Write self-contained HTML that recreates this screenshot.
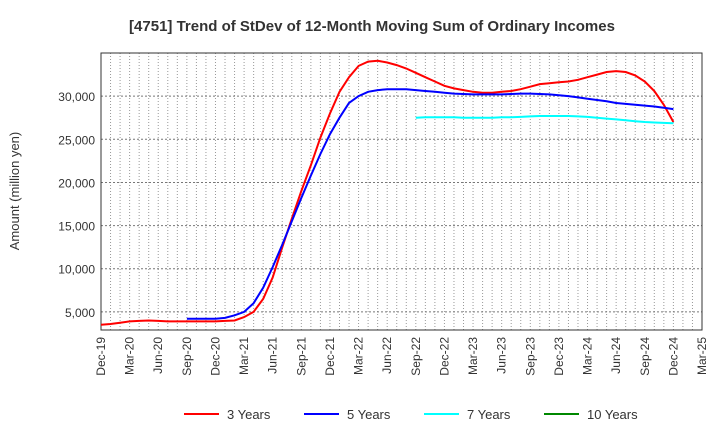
<!DOCTYPE html>
<html><head><meta charset="utf-8"><style>
body{margin:0;background:#fff;font-family:"Liberation Sans",sans-serif}
</style></head><body>
<svg id="c" width="720" height="440" xmlns="http://www.w3.org/2000/svg">
<text x="372" y="31" text-anchor="middle" font-size="15" font-weight="bold" fill="#333">[4751]  Trend of StDev of 12-Month Moving Sum of Ordinary Incomes</text>
<text transform="translate(19,191) rotate(-90)" text-anchor="middle" font-size="13" fill="#333">Amount (million yen)</text>
<g id="grid"></g><g id="axes"></g><g id="series"></g><g id="legend"></g>
</svg>
<script>
const xLabels=["Dec-19","Mar-20","Jun-20","Sep-20","Dec-20","Mar-21","Jun-21","Sep-21","Dec-21","Mar-22","Jun-22","Sep-22","Dec-22","Mar-23","Jun-23","Sep-23","Dec-23","Mar-24","Jun-24","Sep-24","Dec-24","Mar-25"];
const yTicks=[5000,10000,15000,20000,25000,30000];
const s3=[3500,3600,3750,3900,3950,4000,3950,3900,3900,3900,3900,3900,3900,3950,4000,4400,5000,6500,9000,12500,15800,19000,22000,25200,28000,30500,32200,33500,34000,34100,33900,33600,33200,32700,32200,31700,31200,30900,30700,30500,30400,30400,30500,30600,30800,31100,31400,31500,31600,31700,31900,32200,32500,32800,32900,32800,32400,31700,30600,29000,27000];
const s5Start=9;
const s5=[4200,4200,4200,4200,4300,4600,5000,6000,7800,10200,12800,15500,18200,20800,23300,25600,27500,29200,30000,30500,30700,30800,30800,30800,30700,30600,30500,30400,30300,30250,30200,30200,30200,30200,30250,30300,30300,30250,30200,30100,30000,29850,29700,29550,29400,29200,29100,29000,28900,28800,28650,28500];
const s7Start=33;
const s7=[27500,27550,27550,27550,27550,27500,27500,27500,27500,27550,27550,27600,27650,27700,27700,27700,27700,27650,27600,27500,27400,27300,27200,27100,27000,26950,26900,26850];
const s10=[];
const L=101,R=702,T=53,B=330,yMin=2900,yMax=35000,nM=63;
const X=i=>L+i*(R-L)/nM, Y=v=>B-(v-yMin)/(yMax-yMin)*(B-T);
const ns="http://www.w3.org/2000/svg";
function mk(t,a,p){const e=document.createElementNS(ns,t);for(const k in a)e.setAttribute(k,a[k]);p.appendChild(e);return e;}
const g=document.getElementById('grid'),ax=document.getElementById('axes'),se=document.getElementById('series'),lg=document.getElementById('legend');
for(let i=1;i<nM;i++){const l=mk('line',{x1:X(i),x2:X(i),y1:T,y2:B,stroke:'#999','stroke-width':1,'stroke-dasharray':'1,2'},g);

}
yTicks.forEach(v=>{const l=mk('line',{x1:L,x2:R,y1:Y(v),y2:Y(v),stroke:'#777','stroke-width':1,'stroke-dasharray':'2,2'},g);


const t=mk('text',{x:L-6,y:Y(v)+5,'text-anchor':'end','font-size':12,fill:'#333'},ax);t.textContent=v.toLocaleString('en-US');

});
const fr=mk('rect',{x:L,y:T,width:R-L,height:B-T,fill:'none',stroke:'#333','stroke-width':1},ax);


xLabels.forEach((s,i)=>{const x=X(i*3);const t=mk('text',{transform:`translate(${x+4},${B+7}) rotate(-90)`,'text-anchor':'end','font-size':12,fill:'#333'},ax);t.textContent=s;

});
function line(arr,st,col,name){if(!arr.length)return;const d=arr.map((v,i)=>(i?'L':'M')+X(st+i).toFixed(1)+','+Y(v).toFixed(1)).join('');
const p=mk('path',{d,fill:'none',stroke:col,'stroke-width':2},se);

}
line(s3,0,'#f00','series-3-years');line(s5,s5Start,'#00f','series-5-years');line(s7,s7Start,'#0ff','series-7-years');line(s10,0,'#080','series-10-years');
[["3 Years","#f00",184],["5 Years","#00f",304],["7 Years","#0ff",424],["10 Years","#080",544]].forEach(([n,c,x])=>{
const l=mk('line',{x1:x,x2:x+35,y1:414,y2:414,stroke:c,'stroke-width':2},lg);


const t=mk('text',{x:x+43,y:419,'font-size':13,fill:'#333'},lg);t.textContent=n;

});
</script>
</body></html>
